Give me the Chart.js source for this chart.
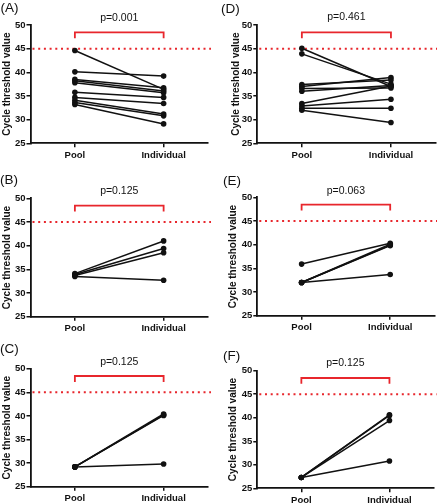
<!DOCTYPE html>
<html><head><meta charset="utf-8">
<script src="https://cdn.jsdelivr.net/npm/chart.js@4.4.1/dist/chart.umd.min.js"></script>
<style>
html,body{margin:0;padding:0;background:#fff;}
#wrap{position:relative;width:437px;height:504px;overflow:hidden;background:#fff;}
#wrap canvas{position:absolute;}
</style></head><body><div id="wrap"></div>
<script>
// ---- data ----
const categories = ['Pool', 'Individual'];
const yMin = 25, yMax = 50, yStep = 5;
const cutoff = 45;
const panelLabels = ['(A)', '(B)', '(C)', '(D)', '(E)', '(F)'];
const pLabels = ['p=0.001', 'p=0.125', 'p=0.125', 'p=0.461', 'p=0.063', 'p=0.125'];
const yTitle = 'Cycle threshold value';

const poolA  = [44.6, 40.1, 38.5, 38.2, 37.8, 35.8, 34.7, 34.1, 33.6, 33.2];
const indivA = [36.4, 39.2, 36.75, 36.05, 35.7, 34.7, 33.4, 31.2, 30.8, 29.1];
const poolB  = [34.1, 33.9, 33.7, 33.5];
const indivB = [41.0, 39.4, 38.5, 32.7];
const poolC  = [29.2, 29.2, 29.2, 29.2];
const indivC = [40.4, 40.2, 40.1, 29.8];
const poolD  = [45.1, 43.9, 37.4, 37.0, 36.6, 36.0, 33.4, 32.9, 32.4, 32.0];
const indivD = [37.0, 37.5, 38.4, 38.9, 36.7, 37.2, 37.1, 34.3, 32.4, 29.4];
const poolE  = [35.9, 32.0, 32.0, 32.0, 32.0];
const indivE = [40.3, 40.1, 39.8, 39.9, 33.7];
const poolF  = [27.3, 27.3, 27.3, 27.3];
const indivF = [40.6, 40.5, 39.4, 30.8];

// ---- layout (positions only) ----
const boxes = [
  {cl:0,   w:218, ax:30.5,  pr:208,   pt:25,    pb:143.3, tx:7.5,   lx:0.5, ly:-16.5, py:-6.7},
  {cl:0,   w:218, ax:30.5,  pr:208,   pt:198.3, pb:316.7, tx:7,     lx:0,   ly:-18.3, py:-7.3},
  {cl:0,   w:218, ax:30.5,  pr:208,   pt:368.7, pb:486.7, tx:7,     lx:0,   ly:-19.7, py:-6.4},
  {cl:218, w:219, ax:257.3, pr:435.5, pt:25,    pb:143.3, tx:236,   lx:3,   ly:-16,   py:-7.7},
  {cl:218, w:219, ax:257.3, pr:434.5, pt:197.3, pb:315.7, tx:233.5, lx:5,   ly:-16.3, py:-6.3},
  {cl:218, w:219, ax:257.3, pr:433.5, pt:370.7, pb:488.3, tx:233.5, lx:5,   ly:-14.7, py:-7.4}
];
const bracketTop = 48.45, bracketEnd = 47.2;
const pools = [poolA, poolB, poolC, poolD, poolE, poolF];
const indivs = [indivA, indivB, indivC, indivD, indivE, indivF];

const FONT = '"Liberation Sans", Arial, sans-serif';
const RED = '#e8262c';
const INK = '#111111';

const deco = {
  id: 'deco',
  beforeDatasetsDraw(chart, args, o) {
    const {ctx, chartArea: a, scales: {y}} = chart;
    const yy = y.getPixelForValue(o.cutoff);
    ctx.save();
    ctx.strokeStyle = RED; ctx.lineWidth = 2; ctx.setLineDash([2, 3.7]);
    ctx.beginPath(); ctx.moveTo(a.left + 2, yy); ctx.lineTo(a.right + 3, yy); ctx.stroke();
    ctx.restore();
  },
  afterDraw(chart, args, o) {
    const {ctx, chartArea: a, scales: {x, y}} = chart;
    const x0 = x.getPixelForValue(0), x1 = x.getPixelForValue(1);
    const yt = y.getPixelForValue(o.bTop), ye = y.getPixelForValue(o.bEnd);
    ctx.save();
    ctx.strokeStyle = RED; ctx.lineWidth = 1.8; ctx.lineJoin = 'miter';
    ctx.beginPath(); ctx.moveTo(x0, ye); ctx.lineTo(x0, yt); ctx.lineTo(x1, yt); ctx.lineTo(x1, ye); ctx.stroke();
    ctx.fillStyle = INK; ctx.textBaseline = 'middle';
    ctx.font = '10.5px ' + FONT; ctx.textAlign = 'center';
    ctx.fillText(o.p, (x0 + x1) / 2, a.top + o.py);
    ctx.font = '13.5px ' + FONT; ctx.textAlign = 'left';
    ctx.fillText(o.label, o.lx, a.top + o.ly);
    ctx.restore();
  }
};

const wrap = document.getElementById('wrap');
boxes.forEach((b, i) => {
  const ct = Math.round(b.pt - 26);
  const H = Math.round(b.pb + 24) - ct;
  const cv = document.createElement('canvas');
  cv.width = b.w; cv.height = H;
  cv.style.left = b.cl + 'px'; cv.style.top = ct + 'px';
  cv.style.width = b.w + 'px'; cv.style.height = H + 'px';
  wrap.appendChild(cv);
  const pool = pools[i], indiv = indivs[i];
  const datasets = pool.map((v, k) => ({
    data: [v, indiv[k]],
    borderColor: INK, backgroundColor: INK, borderWidth: 1.5,
    pointRadius: 2.8, pointHoverRadius: 2.8, pointBorderWidth: 0, tension: 0
  }));
  new Chart(cv, {
    type: 'line',
    data: {labels: categories, datasets},
    options: {
      responsive: false, animation: false, devicePixelRatio: 1,
      layout: {autoPadding: false, padding: {top: b.pt - ct, right: b.cl + b.w - b.pr, left: 0, bottom: 0}},
      plugins: {
        legend: {display: false}, tooltip: {enabled: false},
        deco: {cutoff, bTop: bracketTop, bEnd: bracketEnd, p: pLabels[i], label: panelLabels[i], lx: b.lx, ly: b.ly, py: b.py}
      },
      scales: {
        x: {
          type: 'category', offset: true,
          grid: {display: true, drawOnChartArea: false, drawTicks: true, tickLength: 4, offset: false, color: INK, lineWidth: 1.5},
          border: {display: true, color: INK, width: 1.8},
          ticks: {color: INK, font: {family: FONT, size: 9.5, weight: 'bold'}, padding: 2, maxRotation: 0, autoSkip: false},
          afterFit(s) { s.height = (ct + H) - b.pb; }
        },
        y: {
          min: yMin, max: yMax,
          grid: {display: true, drawOnChartArea: false, drawTicks: true, tickLength: 4, color: INK, lineWidth: 1.5},
          border: {display: true, color: INK, width: 1.8},
          ticks: {stepSize: yStep, color: INK, font: {family: FONT, size: 9.5, weight: 'bold'}, padding: 1},
          title: {display: true, text: yTitle, color: INK, font: {family: FONT, size: 10, weight: 'bold', lineHeight: 1.2}, padding: {top: b.tx - b.cl - 6, bottom: 0}},
          afterFit(s) { s.width = b.ax - b.cl; }
        }
      }
    },
    plugins: [deco]
  });
});
</script></body></html>
